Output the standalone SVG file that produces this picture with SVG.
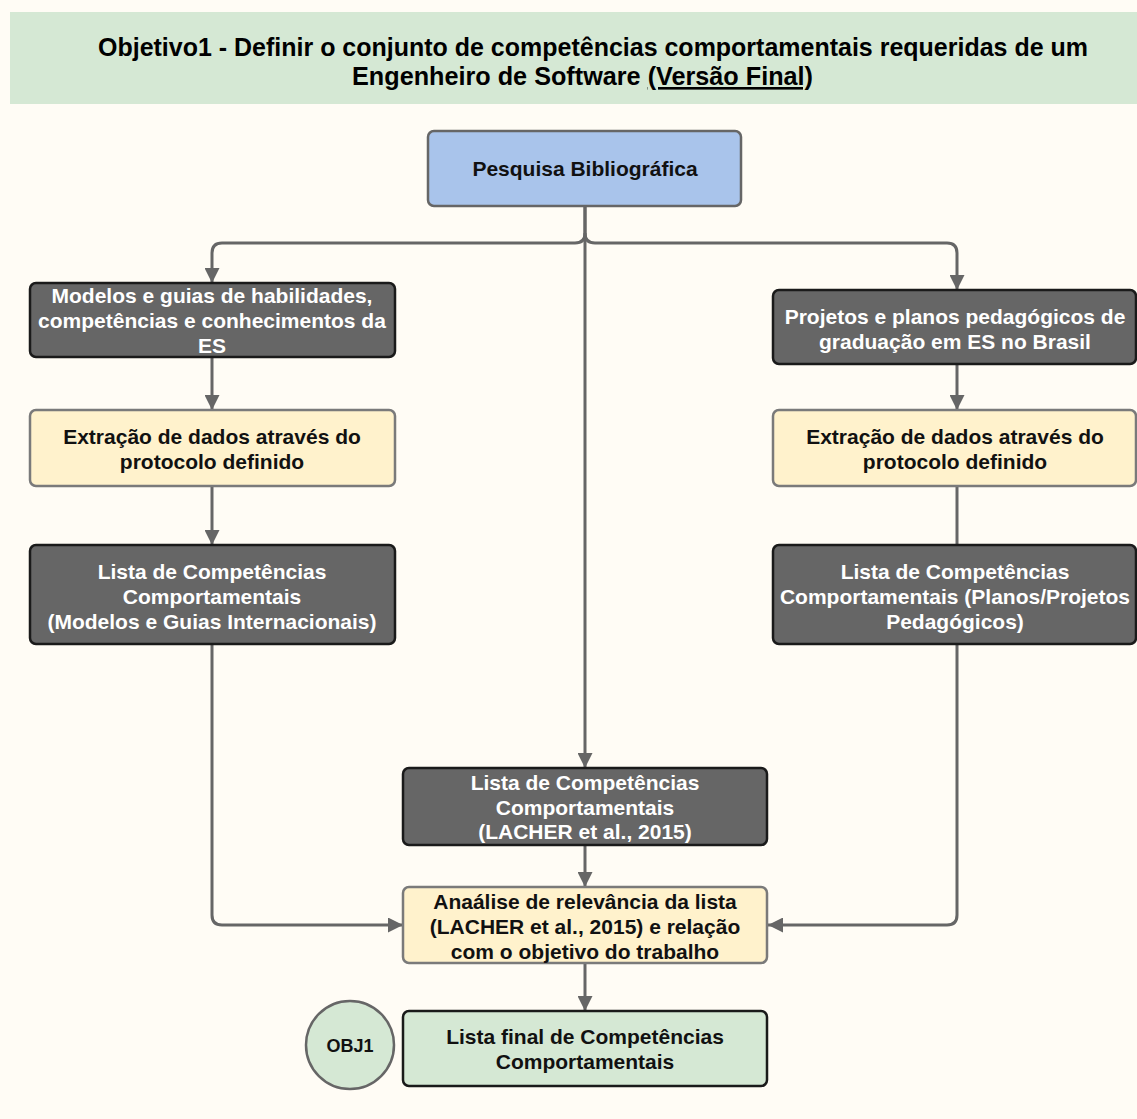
<svg xmlns="http://www.w3.org/2000/svg" width="1137" height="1119" viewBox="0 0 1137 1119">
  <defs>
    <style>
      .bg { fill: #FFFCF5; }
      .band { fill: #D5E8D4; }
      .title { font-family: "Liberation Sans", Arial, sans-serif; font-size: 26px; font-weight: bold; fill: #000; }
      .dark { fill: #666666; stroke: #1a1a1a; stroke-width: 2.5; }
      .yellow { fill: #FFF2CC; stroke: #7a7a7a; stroke-width: 2.5; }
      .blue { fill: #A9C4EB; stroke: #666666; stroke-width: 2.5; }
      .green { fill: #D5E8D4; stroke: #1a1a1a; stroke-width: 2.5; }
      .circ { fill: #D5E8D4; stroke: #666666; stroke-width: 2.5; }
      .lbl { font-family: "Liberation Sans", Arial, sans-serif; font-size: 21px; font-weight: bold; text-anchor: middle; }
      .w { fill: #ffffff; }
      .k { fill: #111111; }
      .edge { fill: none; stroke: #666666; stroke-width: 3; }
    </style>
    <marker id="arrow" viewBox="0 0 10 10" refX="10" refY="5" markerWidth="5" markerHeight="5" markerUnits="strokeWidth" orient="auto">
      <path d="M0,0 L10,5 L0,10 z" fill="#666666"/>
    </marker>
  </defs>

  <rect class="bg" x="0" y="0" width="1137" height="1119"/>

  <!-- header band -->
  <g id="title">
    <rect class="band" x="10" y="12" width="1127" height="92"/>
    <text class="title" x="98" y="56" textLength="990" lengthAdjust="spacingAndGlyphs">Objetivo1 - Definir o conjunto de competências comportamentais requeridas de um</text>
    <text class="title" x="352" y="85" textLength="461" lengthAdjust="spacingAndGlyphs">Engenheiro de Software <tspan text-decoration="underline">(Versão Final)</tspan></text>
  </g>

  <!-- connectors -->
  <g id="connectors">
    <path class="edge" d="M585,206 V233 Q585,243 575,243 H222 Q212,243 212,253 V283" marker-end="url(#arrow)"/>
    <path class="edge" d="M585,233 Q585,243 595,243 H947 Q957,243 957,253 V290" marker-end="url(#arrow)"/>
    <path class="edge" d="M585,206 V768" marker-end="url(#arrow)"/>
    <path class="edge" d="M212,357 V410" marker-end="url(#arrow)"/>
    <path class="edge" d="M212,486 V545" marker-end="url(#arrow)"/>
    <path class="edge" d="M957,364 V410" marker-end="url(#arrow)"/>
    <path class="edge" d="M957,486 V545"/>
    <path class="edge" d="M212,644 V915 Q212,925 222,925 H403" marker-end="url(#arrow)"/>
    <path class="edge" d="M957,644 V915 Q957,925 947,925 H768" marker-end="url(#arrow)"/>
    <path class="edge" d="M585,845 V887" marker-end="url(#arrow)"/>
    <path class="edge" d="M585,963 V1011" marker-end="url(#arrow)"/>
  </g>

  <g id="pesquisa">
    <rect class="blue" x="428" y="131" width="313" height="75" rx="6"/>
    <text class="lbl k" x="585" y="176">Pesquisa Bibliográfica</text>
  </g>

  <g id="modelos">
    <rect class="dark" x="30" y="283" width="365" height="74" rx="6"/>
    <text class="lbl w" x="212" y="303">Modelos e guias de habilidades,</text>
    <text class="lbl w" x="212" y="328">competências e conhecimentos da</text>
    <text class="lbl w" x="212" y="353">ES</text>
  </g>

  <g id="extracao-esq">
    <rect class="yellow" x="30" y="410" width="365" height="76" rx="6"/>
    <text class="lbl k" x="212" y="444">Extração de dados através do</text>
    <text class="lbl k" x="212" y="469">protocolo definido</text>
  </g>

  <g id="lista-modelos">
    <rect class="dark" x="30" y="545" width="365" height="99" rx="6"/>
    <text class="lbl w" x="212" y="579">Lista de Competências</text>
    <text class="lbl w" x="212" y="604">Comportamentais</text>
    <text class="lbl w" x="212" y="629">(Modelos e Guias Internacionais)</text>
  </g>

  <g id="projetos">
    <rect class="dark" x="773" y="290" width="363" height="74" rx="6"/>
    <text class="lbl w" x="955" y="324">Projetos e planos pedagógicos de</text>
    <text class="lbl w" x="955" y="349">graduação em ES no Brasil</text>
  </g>

  <g id="extracao-dir">
    <rect class="yellow" x="773" y="410" width="363" height="76" rx="6"/>
    <text class="lbl k" x="955" y="444">Extração de dados através do</text>
    <text class="lbl k" x="955" y="469">protocolo definido</text>
  </g>

  <g id="lista-planos">
    <rect class="dark" x="773" y="545" width="363" height="99" rx="6"/>
    <text class="lbl w" x="955" y="579">Lista de Competências</text>
    <text class="lbl w" x="955" y="604">Comportamentais (Planos/Projetos</text>
    <text class="lbl w" x="955" y="629">Pedagógicos)</text>
  </g>

  <g id="lista-lacher">
    <rect class="dark" x="403" y="768" width="364" height="77" rx="6"/>
    <text class="lbl w" x="585" y="790">Lista de Competências</text>
    <text class="lbl w" x="585" y="815">Comportamentais</text>
    <text class="lbl w" x="585" y="839">(LACHER et al., 2015)</text>
  </g>

  <g id="analise">
    <rect class="yellow" x="403" y="887" width="364" height="76" rx="6"/>
    <text class="lbl k" x="585" y="909">Anaálise de relevância da lista</text>
    <text class="lbl k" x="585" y="934">(LACHER et al., 2015) e relação</text>
    <text class="lbl k" x="585" y="959">com o objetivo do trabalho</text>
  </g>

  <g id="lista-final">
    <rect class="green" x="403" y="1011" width="364" height="75" rx="6"/>
    <text class="lbl k" x="585" y="1044">Lista final de Competências</text>
    <text class="lbl k" x="585" y="1069">Comportamentais</text>
  </g>

  <g id="obj1">
    <circle class="circ" cx="350" cy="1045" r="44"/>
    <text class="lbl k" x="350" y="1052" style="font-size:18px">OBJ1</text>
  </g>
</svg>
